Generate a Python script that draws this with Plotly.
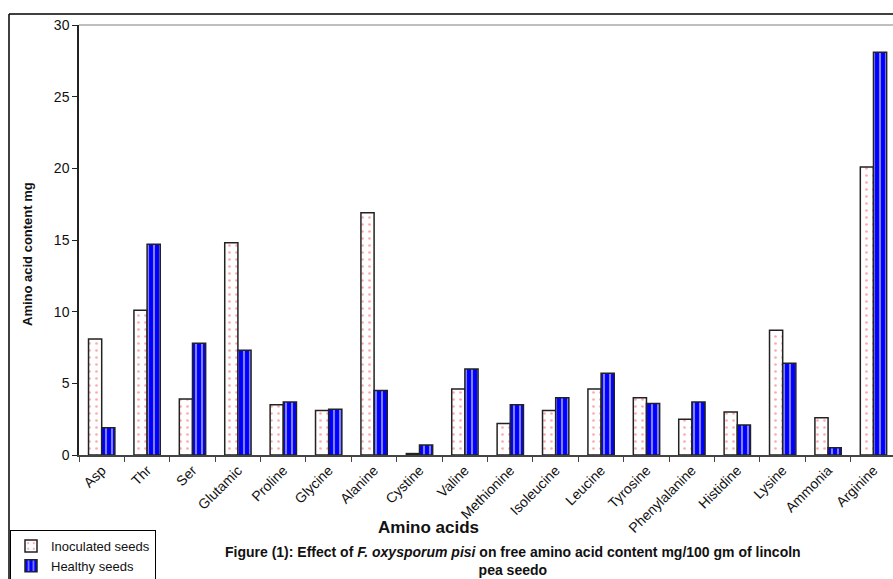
import plotly.graph_objects as go

categories = ["Asp", "Thr", "Ser", "Glutamic", "Proline", "Glycine", "Alanine", "Cystine",
              "Valine", "Methionine", "Isoleucine", "Leucine", "Tyrosine", "Phenylalanine",
              "Histidine", "Lysine", "Ammonia", "Arginine"]
inoculated = [8.1, 10.1, 3.9, 14.8, 3.5, 3.1, 16.9, 0.1, 4.6, 2.2, 3.1, 4.6, 4.0, 2.5, 3.0, 8.7, 2.6, 20.1]
healthy = [1.9, 14.7, 7.8, 7.3, 3.7, 3.2, 4.5, 0.7, 6.0, 3.5, 4.0, 5.7, 3.6, 3.7, 2.1, 6.4, 0.5, 28.1]
y_ticks = [0, 5, 10, 15, 20, 25, 30]

W, H = 893, 579
L, R, T, B = 79, 0, 25, 124
pw, ph = W - L - R, H - T - B

def px(x):
    return (x - L) / pw

def py(y):
    return (H - B - y) / ph

fig = go.Figure()
fig.add_trace(go.Bar(
    x=categories, y=inoculated, name="Inoculated seeds",
    marker=dict(color="white", line=dict(color="#222", width=1.5),
                pattern=dict(shape=".", fgcolor="#ff5555", bgcolor="white", size=7, solidity=0.12)),
))
fig.add_trace(go.Bar(
    x=categories, y=healthy, name="Healthy seeds",
    marker=dict(color="#0000ff", line=dict(color="#222", width=1.5),
                pattern=dict(shape="|", fgcolor="white", bgcolor="#0000ff", size=6, solidity=0.35)),
))

fig.update_layout(
    width=W, height=H,
    margin=dict(l=L, r=R, t=T, b=B, autoexpand=False),
    paper_bgcolor="white", plot_bgcolor="white",
    barmode="group", bargap=0.42, bargroupgap=0,
    font=dict(family="Arial, Liberation Sans, sans-serif", size=13, color="#111"),
    showlegend=True,
    legend=dict(x=px(10), y=py(530), xanchor="left", yanchor="top",
                bordercolor="black", borderwidth=1, bgcolor="white",
                font=dict(size=13), itemwidth=30, tracegroupgap=0,
                traceorder="normal"),
    xaxis=dict(range=[-0.5, 17.43], tickangle=-45, showline=True, linecolor="#444", linewidth=1.5,
               ticks="outside", tickson="boundaries", ticklen=5, tickcolor="#444",
               tickfont=dict(size=14), showgrid=False, zeroline=False),
    yaxis=dict(range=[0, 30], tickvals=y_ticks, showline=True, linecolor="#222", linewidth=1.5,
               ticks="outside", ticklen=5, tickcolor="#222", tickfont=dict(size=14),
               showgrid=False, zeroline=False),
)

# plot-area top border (gray) and outer frame
fig.add_shape(type="line", xref="paper", yref="paper", x0=0, x1=1, y0=1, y1=1,
              line=dict(color="#aaa", width=1.5))
fig.add_shape(type="line", xref="paper", yref="paper", x0=px(9), x1=px(893), y0=py(14), y1=py(14),
              line=dict(color="black", width=1.5))
fig.add_shape(type="line", xref="paper", yref="paper", x0=px(9), x1=px(9), y0=py(14), y1=py(579),
              line=dict(color="black", width=1.5))

fig.add_annotation(text="<b>Amino acid content mg</b>", xref="paper", yref="paper",
                   x=px(27), y=py(254), xanchor="center", yanchor="middle",
                   textangle=-90, showarrow=False, font=dict(size=13))
fig.add_annotation(text="<b>Amino acids</b>", xref="paper", yref="paper",
                   x=px(428), y=py(527), xanchor="center", yanchor="middle",
                   showarrow=False, font=dict(size=17))
fig.add_annotation(text="<b>Figure (1): Effect of <i>F. oxysporum pisi</i> on free amino acid content mg/100 gm of lincoln<br>pea seedo</b>",
                   xref="paper", yref="paper", x=px(513), y=py(561), xanchor="center", yanchor="middle",
                   showarrow=False, align="center", font=dict(size=14))

fig.write_html("out.html", config={"displayModeBar": False},
               post_script="document.body.style.margin='0';document.body.style.overflow='hidden';")
